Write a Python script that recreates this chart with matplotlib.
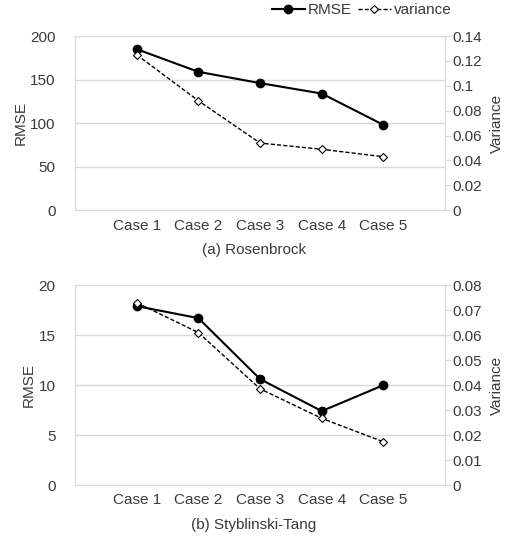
import matplotlib.pyplot as plt
from matplotlib.lines import Line2D

cases = ['Case 1', 'Case 2', 'Case 3', 'Case 4', 'Case 5']

rosen_rmse = [185, 159, 146, 134, 98]
rosen_var = [0.125, 0.088, 0.054, 0.049, 0.043]

stt_rmse = [17.9, 16.7, 10.6, 7.4, 10.0]
stt_var = [0.073, 0.061, 0.0385, 0.0267, 0.0173]

TXT = '#3a3a3a'
GRID = '#d9d9d9'
plt.rcParams['font.family'] = ['Liberation Sans', 'DejaVu Sans']
plt.rcParams['font.size'] = 11

fig = plt.figure(figsize=(5.07, 5.39), dpi=100)


def panel(rect, rmse, var, ymax, ystep, vmax, vstep, title, title_y):
    ax = fig.add_axes(rect)
    x = range(1, len(cases) + 1)
    ax.plot(x, rmse, '-', color='black', lw=1.5, marker='o', ms=6, zorder=3)
    ax.set_xlim(0, 6)
    ax.set_ylim(0, ymax)
    ax.set_yticks([i * ystep for i in range(int(ymax / ystep) + 1)])
    ax.set_xticks(list(x))
    ax.set_xticklabels(cases)
    ax.grid(axis='y', color=GRID, lw=1)
    ax.set_axisbelow(True)
    for s in ['top', 'right']:
        ax.spines[s].set_visible(False)
    for s in ['left', 'bottom']:
        ax.spines[s].set_color(GRID)
    ax.tick_params(axis='y', length=0, colors=TXT, pad=14)
    ax.tick_params(axis='x', length=0, colors=TXT, pad=6)
    ax.set_ylabel('RMSE', color=TXT, labelpad=2)

    ax2 = ax.twinx()
    ax2.plot(x, var, color='black', lw=1, dashes=(3, 1.5), marker='D', ms=4.5,
             mfc='white', mec='black', mew=0.8, zorder=3)
    ax2.set_ylim(0, vmax)
    n = int(round(vmax / vstep))
    ticks = [round(i * vstep, 3) for i in range(n + 1)]
    ax2.set_yticks(ticks)
    ax2.set_yticklabels(['0' if t == 0 else ('%g' % t) for t in ticks])
    for s in ['top', 'left', 'bottom']:
        ax2.spines[s].set_visible(False)
    ax2.spines['right'].set_color(GRID)
    ax2.tick_params(axis='y', length=4, color=GRID, labelcolor=TXT, pad=1)
    ax2.set_ylabel('Variance', color=TXT, labelpad=6)
    fig.text(254 / 507, title_y, title, ha='center', va='center', color=TXT)
    return ax


panel([0.148, 0.610, 0.730, 0.323], rosen_rmse, rosen_var, 200, 50, 0.14, 0.02,
      '(a) Rosenbrock', 1 - 250 / 539)
panel([0.148, 0.100, 0.730, 0.371], stt_rmse, stt_var, 20, 5, 0.08, 0.01,
      '(b) Styblinski-Tang', 1 - 525 / 539)

handles = [
    Line2D([], [], color='black', lw=1.5, marker='o', ms=6),
    Line2D([], [], color='black', lw=1, dashes=(3, 1.5), marker='D', ms=4.5,
           mfc='white', mew=0.8),
]
fig.legend(handles, ['RMSE', 'variance'], ncol=2, loc='center right',
           bbox_to_anchor=(0.89, 1 - 10 / 539), frameon=False, handlelength=2.2,
           handletextpad=0.15, columnspacing=0.4, labelcolor=TXT,
           borderpad=0, borderaxespad=0)

fig.savefig('out.png', dpi=100)
